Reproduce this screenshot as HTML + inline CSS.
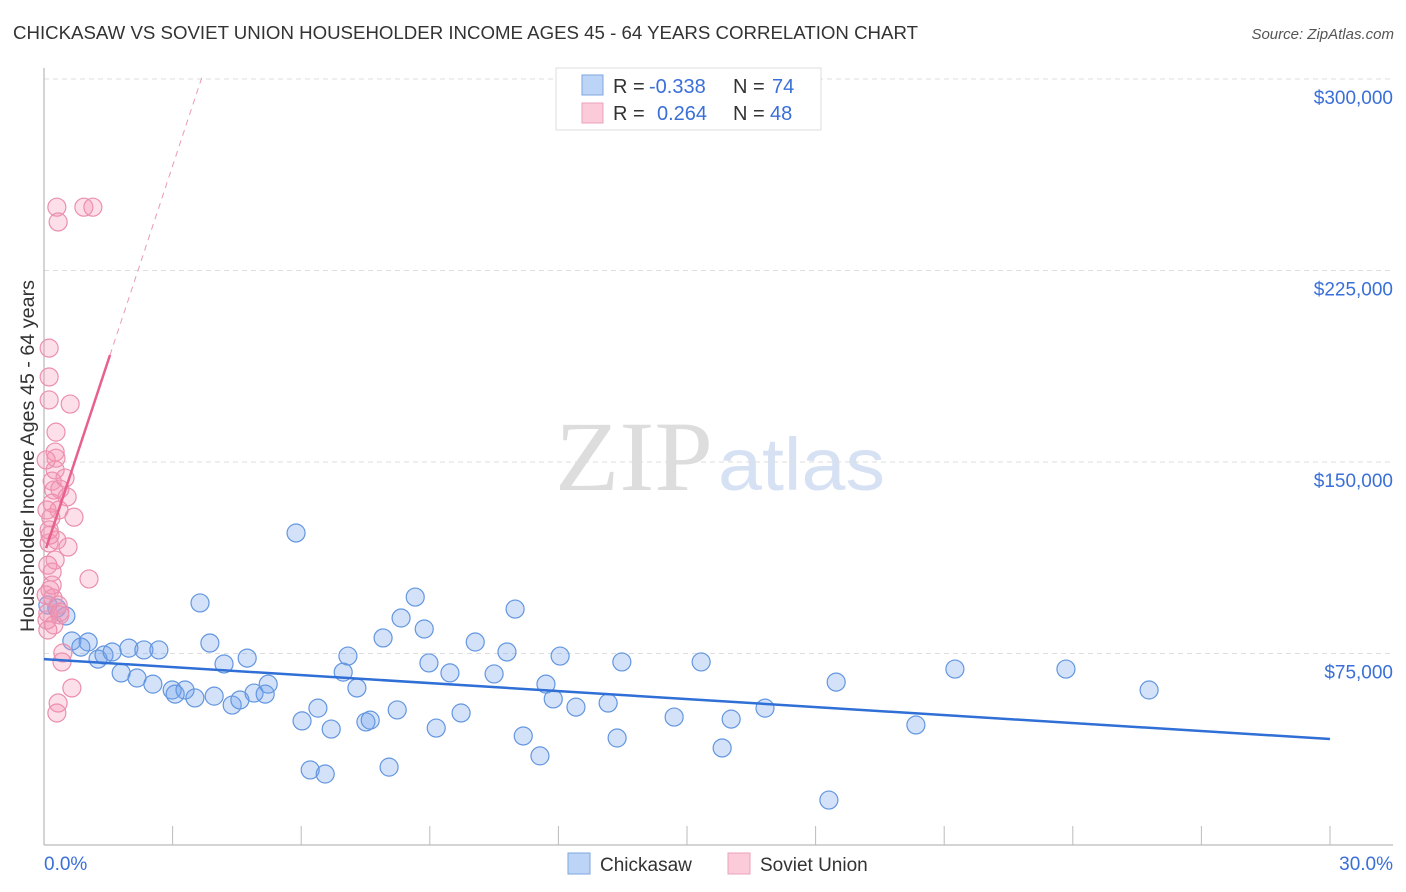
<!DOCTYPE html>
<html><head><meta charset="utf-8"><style>
body{margin:0;background:#fff;font-family:"Liberation Sans",sans-serif;}
svg{display:block}
</style></head><body>
<svg id="chart" width="1406" height="892" xmlns="http://www.w3.org/2000/svg">
<text x="13" y="39" font-size="18" fill="#333" textLength="905" lengthAdjust="spacingAndGlyphs">CHICKASAW VS SOVIET UNION HOUSEHOLDER INCOME AGES 45 - 64 YEARS CORRELATION CHART</text>
<text x="1394" y="39" font-size="15" fill="#555" text-anchor="end" font-style="italic">Source: ZipAtlas.com</text>
<g>
<text x="713" y="490" font-size="100" fill="#ddd" text-anchor="end" font-family="Liberation Serif, serif" textLength="158" lengthAdjust="spacingAndGlyphs">ZIP</text>
<text x="718" y="490" font-size="74" fill="#d6e2f4" textLength="167" lengthAdjust="spacingAndGlyphs">atlas</text>
</g>
<g id="grid"></g><g id="axes"></g><g id="marks"></g>
<text transform="translate(34,456) rotate(-90)" font-size="19" fill="#333" text-anchor="middle" textLength="352" lengthAdjust="spacingAndGlyphs">Householder Income Ages 45 - 64 years</text>
<g>
<rect x="556" y="68" width="265" height="62" fill="#fff" stroke="#ddd"/>
<rect x="582" y="75" width="21" height="20" fill="#bcd4f6" stroke="#7ea6e0"/>
<rect x="582" y="103" width="21" height="20" fill="#fbcbd9" stroke="#eea1b9"/>
<text x="613" y="93" font-size="20" fill="#333">R =</text>
<text x="649" y="93" font-size="20" fill="#3a6fd8">-0.338</text>
<text x="733" y="93" font-size="20" fill="#333">N =</text>
<text x="772" y="93" font-size="20" fill="#3a6fd8">74</text>
<text x="613" y="120" font-size="20" fill="#333">R =</text>
<text x="657" y="120" font-size="20" fill="#3a6fd8">0.264</text>
<text x="733" y="120" font-size="20" fill="#333">N =</text>
<text x="770" y="120" font-size="20" fill="#3a6fd8">48</text>
</g>
<g>
<rect x="568" y="853" width="22" height="21" fill="#bcd4f6" stroke="#7ea6e0"/>
<text x="600" y="871" font-size="19" fill="#333">Chickasaw</text>
<rect x="728" y="853" width="22" height="21" fill="#fbcbd9" stroke="#eea1b9"/>
<text x="760" y="871" font-size="19" fill="#333">Soviet Union</text>
</g>
</svg>
<script>
const blueX=[0.09,0.30,0.51,0.65,1.03,0.86,1.26,1.40,1.59,1.80,1.98,2.17,2.33,2.54,2.68,2.99,3.06,3.29,3.52,3.64,3.87,3.97,4.20,4.39,4.57,4.74,4.90,5.16,5.23,5.88,6.02,6.21,6.39,6.56,6.70,6.98,7.09,7.30,7.51,7.61,7.91,8.05,8.24,8.33,8.66,8.87,8.98,9.15,9.47,9.73,10.06,10.50,10.80,10.99,11.18,11.57,11.71,11.88,12.04,12.41,13.16,13.37,13.48,14.70,15.33,15.82,16.03,16.82,18.31,18.48,20.34,21.25,23.84,25.78];
const blueY=[94.0,92.8,89.7,79.9,79.5,77.5,72.8,74.4,75.6,67.4,77.1,65.4,76.4,63.0,76.4,60.7,59.1,60.7,57.6,94.8,79.1,58.3,70.9,54.8,56.8,73.2,59.5,59.1,63.0,122.2,48.6,29.4,53.6,27.8,45.4,67.7,74.0,61.5,48.2,48.9,81.1,30.5,52.9,88.9,97.1,84.6,71.3,45.8,67.4,51.7,79.5,67.0,75.6,92.4,42.7,34.9,63.0,57.2,74.0,54.0,55.6,41.9,71.7,50.1,71.7,38.0,49.3,53.6,17.6,63.8,47.0,68.9,68.9,60.7];
const pinkX=[0.30,0.93,1.14,0.33,0.12,0.12,0.12,0.61,0.28,0.26,0.28,0.19,0.23,0.37,0.54,0.19,0.35,0.70,0.16,0.30,0.56,0.12,0.26,0.09,0.19,1.05,0.09,0.33,0.37,0.23,0.09,0.44,0.42,0.65,0.33,0.30,0.14,0.05,0.21,0.07,0.14,0.26,0.07,0.37,0.19,0.49,0.05,0.12];
const pinkY=[249.8,249.8,249.8,244.0,194.6,183.3,174.3,172.7,161.7,153.9,151.5,142.5,139.0,139.4,136.3,133.9,131.2,128.4,128.1,119.4,116.7,118.3,111.6,109.6,106.9,104.2,90.9,94.0,90.1,86.2,84.2,75.2,71.7,61.5,55.6,51.7,99.9,97.9,96.7,88.1,121.4,146.9,131.2,91.2,101.8,143.7,150.8,123.4];
const yTicks=[75,150,225,300];
const yTickLabels=["$75,000","$150,000","$225,000","$300,000"];
const blueTrend=[[0,72.8],[30,41.5]];
const pinkTrendSolid=[[0.05,116.3],[1.54,191.9]];
const pinkTrendDash=[[1.54,191.9],[3.70,301.5]];

const NS="http://www.w3.org/2000/svg";
const X=v=>44+v/30*1286;
const Y=v=>845-v/75*191.5;
function mk(tag,attrs,parent){const e=document.createElementNS(NS,tag);for(const k in attrs)e.setAttribute(k,attrs[k]);parent.appendChild(e);return e;}
const grid=document.getElementById('grid'),axes=document.getElementById('axes'),marks=document.getElementById('marks');
yTicks.forEach((t,i)=>{
 const l=mk('line',{x1:44,x2:1393,y1:Y(t),y2:Y(t),stroke:'#ddd','stroke-dasharray':'5,4'},grid);
 
 
 const tx=mk('text',{x:1393,y:Y(t)+25,'font-size':19,fill:'#3a6fd8','text-anchor':'end'},axes);
 tx.textContent=yTickLabels[i];
 
 
});
let a=mk('line',{x1:44,x2:44,y1:68,y2:845,stroke:'#aaa'},axes);


a=mk('line',{x1:44,x2:1393,y1:845,y2:845,stroke:'#aaa'},axes);


for(let i=1;i<=10;i++){const t=mk('line',{x1:X(i*3),x2:X(i*3),y1:826,y2:845,stroke:'#bbb'},axes);
 
 }
let t0=mk('text',{x:44,y:870,'font-size':19,fill:'#3a6fd8'},axes);t0.textContent='0.0%';


t0=mk('text',{x:1393,y:870,'font-size':19,fill:'#3a6fd8','text-anchor':'end'},axes);t0.textContent='30.0%';


blueX.forEach((x,i)=>{const c=mk('circle',{cx:X(x),cy:Y(blueY[i]),r:9,fill:'rgba(110,160,235,0.3)',stroke:'#6396e0','stroke-width':1.2},marks);
 
 });
pinkX.forEach((x,i)=>{const c=mk('circle',{cx:X(x),cy:Y(pinkY[i]),r:9,fill:'rgba(245,150,180,0.3)',stroke:'#eb8fae','stroke-width':1.2},marks);
 
 });
let tl=mk('line',{x1:X(blueTrend[0][0]),y1:Y(blueTrend[0][1]),x2:X(blueTrend[1][0]),y2:Y(blueTrend[1][1]),stroke:'#2f6fd6','stroke-width':2.5},marks);


tl=mk('line',{x1:X(pinkTrendSolid[0][0]),y1:Y(pinkTrendSolid[0][1]),x2:X(pinkTrendSolid[1][0]),y2:Y(pinkTrendSolid[1][1]),stroke:'#e8608c','stroke-width':2.5},marks);


tl=mk('line',{x1:X(pinkTrendDash[0][0]),y1:Y(pinkTrendDash[0][1]),x2:X(pinkTrendDash[1][0]),y2:Y(pinkTrendDash[1][1]),stroke:'#eb9ab4','stroke-width':1,'stroke-dasharray':'6,5'},marks);


</script>
</body></html>
